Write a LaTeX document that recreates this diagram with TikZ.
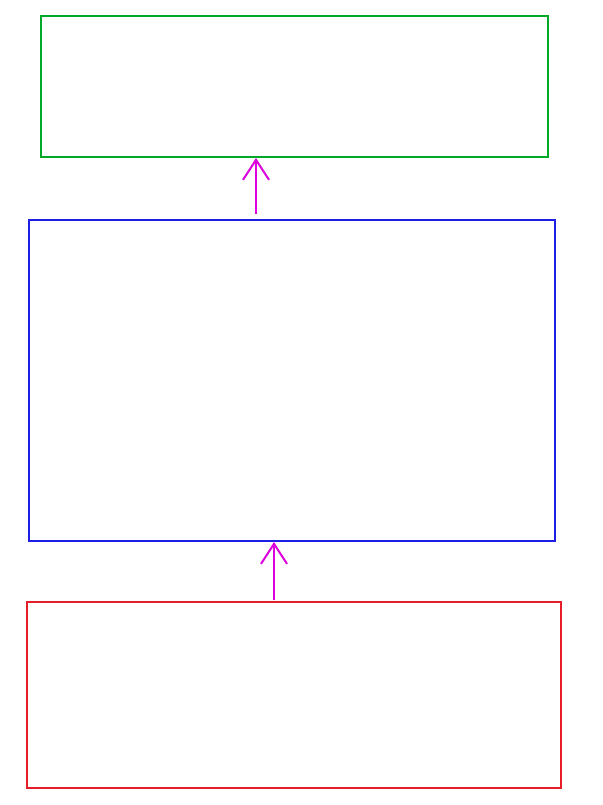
\documentclass[tikz,border=0pt]{standalone}
\usetikzlibrary{arrows.meta}
\definecolor{boxgreen}{RGB}{0,170,40}
\definecolor{boxblue}{RGB}{30,30,230}
\definecolor{boxred}{RGB}{230,30,40}
\definecolor{arrmag}{RGB}{220,0,220}
\tikzset{
  layer/.style={draw, line width=2pt, inner sep=0pt},
  uparrow/.style={arrmag, line width=2pt, -{Straight Barb[length=20pt,width=26pt]}}
}
\begin{document}
\begin{tikzpicture}[x=1pt,y=-1pt]
\useasboundingbox (0,0) rectangle (602,805);
\node [layer, boxgreen, minimum width=507pt, minimum height=141pt] (top) at (294.5,86.5) {};
\node [layer, boxblue, minimum width=526pt, minimum height=321pt] (mid) at (292,380.5) {};
\node [layer, boxred, minimum width=534pt, minimum height=186pt] (bottom) at (294,695) {};
\coordinate (midstart) at (256,214);
\coordinate (botstart) at (274,600);
\draw [uparrow] (midstart) -- (midstart |- top.south);
\draw [uparrow] (botstart) -- (botstart |- mid.south);
\end{tikzpicture}
\end{document}
